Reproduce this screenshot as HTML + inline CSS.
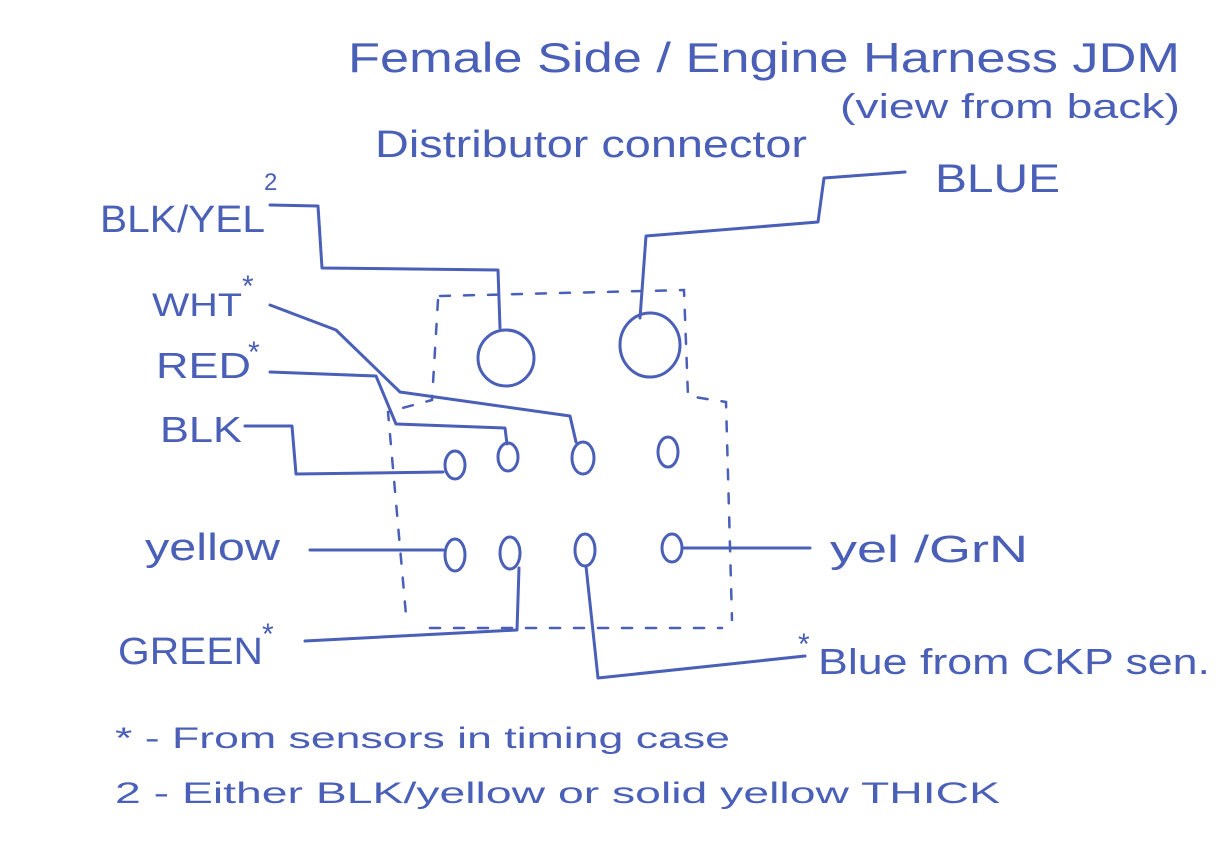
<!DOCTYPE html>
<html><head><meta charset="utf-8"><style>
html,body{margin:0;padding:0;background:#fff;}
svg{display:block}
text{font-family:"Liberation Sans",sans-serif;fill:#4a5fb8;}
</style></head><body>
<svg width="1220" height="866" viewBox="0 0 1220 866" xmlns="http://www.w3.org/2000/svg">
<g fill="none" stroke="#4a5fb8" stroke-width="3" stroke-linecap="round" stroke-linejoin="round">
<path d="M270 205 L318 206 L322 268 L498 270 L500 328"/>
<path d="M905 172 L824 178 L818 222 L646 236 L640 318"/>
<path d="M270 305 L336 330 L400 392 L570 416 L576 442"/>
<path d="M270 372 L376 376 L396 424 L505 428 L507 444"/>
<path d="M245 426 L292 426 L296 474 L443 472"/>
<path d="M310 550 L443 550"/>
<path d="M684 548 L810 548"/>
<path d="M305 641 L517 630 L519 568"/>
<path d="M586 566 L598 678 L805 656"/>
<ellipse cx="506" cy="358" rx="28" ry="28"/>
<ellipse cx="650" cy="345" rx="30" ry="32"/>
<ellipse cx="455" cy="465" rx="10" ry="14"/>
<ellipse cx="508" cy="457" rx="10" ry="14"/>
<ellipse cx="583" cy="458" rx="11" ry="16"/>
<ellipse cx="668" cy="452" rx="10" ry="15"/>
<ellipse cx="455" cy="555" rx="10" ry="16"/>
<ellipse cx="510" cy="553" rx="10" ry="16"/>
<ellipse cx="585" cy="550" rx="10" ry="16"/>
<ellipse cx="672" cy="548" rx="10" ry="14"/>
</g>
<g fill="none" stroke="#4a5fb8" stroke-width="2.5" stroke-dasharray="10 14" stroke-linecap="round">
<path d="M440 296 L684 290 L688 396 L726 402 L732 620"/>
<path d="M438 300 L432 400 L388 412 L406 615"/>
<path d="M430 628 L722 628"/>
</g>
<g lengthAdjust="spacingAndGlyphs">
<text x="348" y="72" font-size="42" textLength="832" lengthAdjust="spacingAndGlyphs">Female Side / Engine Harness JDM</text>
<text x="375" y="157" font-size="38" textLength="432" lengthAdjust="spacingAndGlyphs">Distributor connector</text>
<text x="840" y="118" font-size="34" textLength="340" lengthAdjust="spacingAndGlyphs">(view from back)</text>
<text x="935" y="192" font-size="40" textLength="125" lengthAdjust="spacingAndGlyphs">BLUE</text>
<text x="100" y="232" font-size="38" textLength="165" lengthAdjust="spacingAndGlyphs">BLK/YEL</text>
<text x="264" y="190" font-size="24">2</text>
<text x="152" y="316" font-size="32" textLength="90" lengthAdjust="spacingAndGlyphs">WHT</text>
<text x="242" y="296" font-size="30">*</text>
<text x="156" y="378" font-size="36" textLength="95" lengthAdjust="spacingAndGlyphs">RED</text>
<text x="248" y="362" font-size="30">*</text>
<text x="160" y="442" font-size="36" textLength="82" lengthAdjust="spacingAndGlyphs">BLK</text>
<text x="145" y="560" font-size="38" textLength="135" lengthAdjust="spacingAndGlyphs">yellow</text>
<text x="118" y="664" font-size="38" textLength="145" lengthAdjust="spacingAndGlyphs">GREEN</text>
<text x="262" y="644" font-size="30">*</text>
<text x="830" y="562" font-size="38" textLength="198" lengthAdjust="spacingAndGlyphs">yel /GrN</text>
<text x="798" y="654" font-size="30">*</text>
<text x="818" y="674" font-size="36" textLength="392" lengthAdjust="spacingAndGlyphs">Blue from CKP sen.</text>
<text x="115" y="748" font-size="30" textLength="615" lengthAdjust="spacingAndGlyphs">* - From sensors in timing case</text>
<text x="115" y="803" font-size="30" textLength="885" lengthAdjust="spacingAndGlyphs">2 - Either BLK/yellow or solid yellow THICK</text>
</g>
</svg>
</body></html>
